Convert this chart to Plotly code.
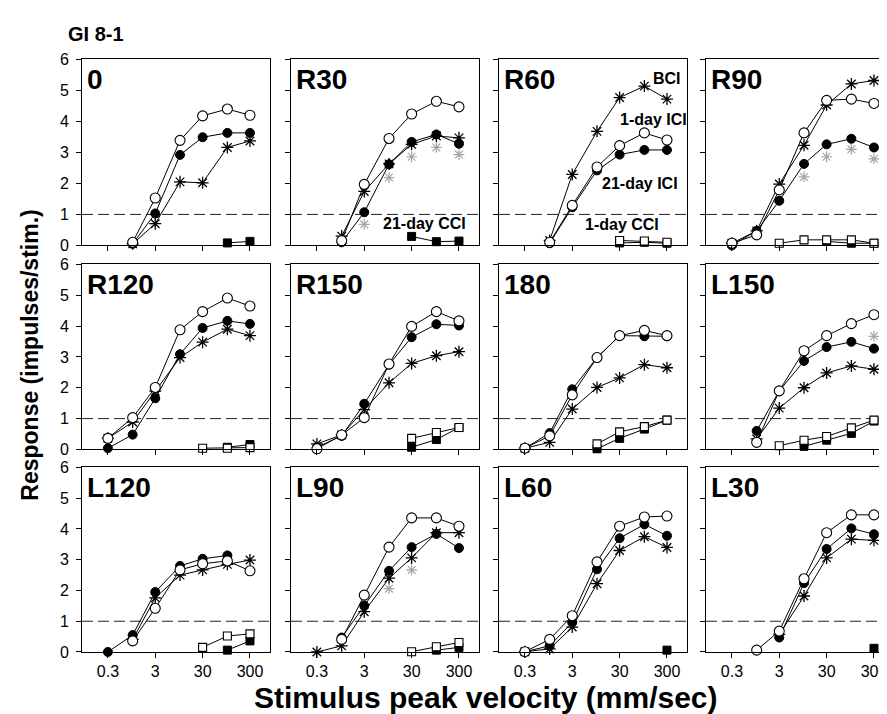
import plotly.graph_objects as go

# ---------------- data ----------------
X = [0.3, 1, 3, 10, 30, 100, 300]
PANEL_NAMES = ["0", "R30", "R60", "R90", "R120", "R150", "180", "L150", "L120", "L90", "L60", "L30"]
N = None

# BCI (asterisk), 1-day ICI (open circle), 21-day ICI (filled circle),
# extra (gray asterisk), 1-day CCI (open square), 21-day CCI (filled square)
p0_bci   = [N, 0.05, 0.70, 2.05, 2.02, 3.16, 3.37]
p0_ici1  = [N, 0.10, 1.53, 3.39, 4.18, 4.40, 4.20]
p0_ici21 = [N, 0.05, 1.03, 2.92, 3.49, 3.63, 3.63]
p0_gray  = [N, N, N, N, N, N, N]
p0_cci1  = [N, N, N, N, N, N, N]
p0_cci21 = [N, N, N, N, N, 0.08, 0.13]

r30_bci   = [N, 0.30, 1.74, 2.63, 3.26, 3.53, 3.47]
r30_ici1  = [N, 0.15, 1.97, 3.45, 4.24, 4.65, 4.47]
r30_ici21 = [N, 0.10, 1.07, 2.62, 3.34, 3.58, 3.28]
r30_gray  = [N, N, 0.68, 2.19, 2.86, 3.16, 2.93]
r30_cci1  = [N, N, N, N, N, N, N]
r30_cci21 = [N, N, N, N, 0.29, 0.12, 0.14]

r60_bci   = [N, 0.16, 2.29, 3.68, 4.77, 5.14, 4.72]
r60_ici1  = [N, 0.10, 1.29, 2.53, 3.22, 3.63, 3.40]
r60_ici21 = [N, 0.07, 1.23, 2.42, 2.93, 3.08, 3.08]
r60_gray  = [N, N, N, N, N, N, N]
r60_cci1  = [N, N, N, N, 0.16, 0.14, 0.10]
r60_cci21 = [N, N, N, N, 0.08, 0.10, 0.07]

r90_bci   = [0.07, 0.47, 1.98, 3.23, 4.53, 5.21, 5.32]
r90_ici1  = [0.07, 0.34, 1.79, 3.63, 4.68, 4.72, 4.58]
r90_ici21 = [0.00, 0.47, 1.44, 2.63, 3.26, 3.44, 3.16]
r90_gray  = [N, N, N, 2.21, 2.86, 3.10, 2.79]
r90_cci1  = [N, N, 0.07, 0.18, 0.18, 0.18, 0.07]
r90_cci21 = [N, N, N, N, 0.13, 0.07, 0.07]

r120_bci   = [0.36, 0.89, 1.89, 2.98, 3.48, 3.90, 3.69]
r120_ici1  = [0.36, 1.03, 2.01, 3.88, 4.47, 4.91, 4.65]
r120_ici21 = [0.04, 0.48, 1.66, 3.09, 3.94, 4.17, 4.07]
r120_gray  = [N, N, N, N, N, N, N]
r120_cci1  = [N, N, N, N, 0.04, 0.04, 0.06]
r120_cci21 = [N, N, N, N, N, 0.07, 0.16]

r150_bci   = [0.18, 0.47, 1.29, 2.16, 2.79, 3.04, 3.17]
r150_ici1  = [0.02, 0.47, 1.03, 2.77, 3.99, 4.47, 4.17]
r150_ici21 = [0.07, 0.44, 1.48, 2.75, 3.64, 4.06, 4.02]
r150_gray  = [N, N, N, N, N, N, N]
r150_cci1  = [N, N, N, N, 0.36, 0.55, 0.71]
r150_cci21 = [N, N, N, N, 0.07, 0.32, 0.71]

p180_bci   = [0.04, 0.23, 1.31, 2.01, 2.32, 2.75, 2.65]
p180_ici1  = [0.04, 0.44, 1.77, 2.98, 3.69, 3.86, 3.69]
p180_ici21 = [0.04, 0.53, 1.95, 2.98, 3.69, 3.67, 3.67]
p180_gray  = [N, N, N, N, N, N, N]
p180_cci1  = [N, N, N, 0.18, 0.57, 0.74, 0.95]
p180_cci21 = [N, N, N, 0.02, 0.36, 0.66, 0.95]

l150_bci   = [N, 0.34, 1.34, 2.00, 2.48, 2.71, 2.60]
l150_ici1  = [N, 0.23, 1.90, 3.20, 3.69, 4.08, 4.37]
l150_ici21 = [N, 0.60, 1.90, 2.87, 3.32, 3.49, 3.27]
l150_gray  = [N, N, N, N, N, N, 3.67]
l150_cci1  = [N, N, 0.12, 0.30, 0.42, 0.70, 0.95]
l150_cci21 = [N, N, N, 0.10, 0.30, 0.52, 0.92]

l120_bci   = [N, 0.41, 1.76, 2.50, 2.67, 2.85, 2.99]
l120_ici1  = [N, 0.36, 1.42, 2.67, 2.87, 2.96, 2.64]
l120_ici21 = [0.00, 0.55, 1.95, 2.80, 3.03, 3.14, N]
l120_gray  = [N, N, N, N, N, N, N]
l120_cci1  = [N, N, N, N, 0.15, 0.52, 0.59]
l120_cci21 = [N, N, N, N, N, 0.06, 0.36]

l90_bci   = [0.00, 0.20, 1.31, 2.40, 3.06, 3.88, 3.88]
l90_ici1  = [N, 0.41, 1.85, 3.41, 4.36, 4.36, 4.09]
l90_ici21 = [N, 0.47, 1.51, 2.64, 3.41, 3.84, 3.38]
l90_gray  = [N, N, N, 2.06, 2.67, N, N]
l90_cci1  = [N, N, N, N, 0.01, 0.17, 0.31]
l90_cci21 = [N, N, N, N, N, 0.06, 0.15]

l60_bci   = [0.01, 0.10, 0.81, 2.22, 3.30, 3.75, 3.40]
l60_ici1  = [0.01, 0.41, 1.18, 2.93, 4.09, 4.39, 4.42]
l60_ici21 = [0.01, 0.20, 0.96, 2.69, 3.70, 4.15, 3.78]
l60_gray  = [N, N, N, N, N, N, N]
l60_cci1  = [N, N, N, N, N, N, N]
l60_cci21 = [N, N, N, N, N, N, 0.06]

l30_bci   = [N, N, 0.57, 1.82, 3.06, 3.67, 3.63]
l30_ici1  = [N, 0.06, 0.68, 2.38, 3.88, 4.46, 4.46]
l30_ici21 = [N, N, 0.47, 2.24, 3.35, 4.02, 3.83]
l30_gray  = [N, N, N, N, N, N, N]
l30_cci1  = [N, N, N, N, N, N, N]
l30_cci21 = [N, N, N, N, N, N, 0.12]

X_TICKS = [0.3, 3, 30, 300]
X_TICK_TEXT = ["0.3", "3", "30", "300"]
Y_TICKS = [0, 1, 2, 3, 4, 5, 6]

panels = [
    (p0_bci, p0_ici1, p0_ici21, p0_gray, p0_cci1, p0_cci21),
    (r30_bci, r30_ici1, r30_ici21, r30_gray, r30_cci1, r30_cci21),
    (r60_bci, r60_ici1, r60_ici21, r60_gray, r60_cci1, r60_cci21),
    (r90_bci, r90_ici1, r90_ici21, r90_gray, r90_cci1, r90_cci21),
    (r120_bci, r120_ici1, r120_ici21, r120_gray, r120_cci1, r120_cci21),
    (r150_bci, r150_ici1, r150_ici21, r150_gray, r150_cci1, r150_cci21),
    (p180_bci, p180_ici1, p180_ici21, p180_gray, p180_cci1, p180_cci21),
    (l150_bci, l150_ici1, l150_ici21, l150_gray, l150_cci1, l150_cci21),
    (l120_bci, l120_ici1, l120_ici21, l120_gray, l120_cci1, l120_cci21),
    (l90_bci, l90_ici1, l90_ici21, l90_gray, l90_cci1, l90_cci21),
    (l60_bci, l60_ici1, l60_ici21, l60_gray, l60_cci1, l60_cci21),
    (l30_bci, l30_ici1, l30_ici21, l30_gray, l30_cci1, l30_cci21),
]

# ---------------- layout geometry (pixels) ----------------
W, H = 887, 714
COL_LEFT = [74, 283, 491, 698]
PW = 188
ROW_TOP = [44.5, 254.5, 462.5]
ROW_BOT = [235, 444, 651.5]
FONT = "Liberation Sans, Arial, Helvetica, sans-serif"

def fx(px):
    return px / W

def fy(py):
    return 1 - py / H

fig = go.Figure()
layout = dict(
    width=W, height=H,
    margin=dict(l=0, r=0, t=0, b=0),
    paper_bgcolor="white", plot_bgcolor="white",
    showlegend=False,
    font=dict(family=FONT, color="black", size=16),
)
annotations = []
shapes = []

line_kw = dict(color="black", width=1)

for i, (bci, ici1, ici21, gray, cci1, cci21) in enumerate(panels):
    r, c = divmod(i, 4)
    k = i + 1
    xa = "x" if k == 1 else f"x{k}"
    ya = "y" if k == 1 else f"y{k}"

    common = dict(x=X, xaxis=xa, yaxis=ya, cliponaxis=False, hoverinfo="skip")
    # BCI - asterisk
    fig.add_trace(go.Scatter(y=bci, mode="lines+markers", line=line_kw,
                             marker=dict(symbol="asterisk-open", size=10, color="black",
                                         line=dict(color="black", width=1.3)), **common))
    # gray asterisk (no line)
    fig.add_trace(go.Scatter(y=gray, mode="markers",
                             marker=dict(symbol="asterisk-open", size=9, color="#a6a6a6",
                                         line=dict(color="#a6a6a6", width=1.2)), **common))
    # 21-day ICI - filled circle
    fig.add_trace(go.Scatter(y=ici21, mode="lines+markers", line=line_kw,
                             marker=dict(symbol="circle", size=9, color="black",
                                         line=dict(color="black", width=1)), **common))
    # 1-day ICI - open circle
    fig.add_trace(go.Scatter(y=ici1, mode="lines+markers", line=line_kw,
                             marker=dict(symbol="circle", size=10, color="white",
                                         line=dict(color="black", width=1.1)), **common))
    # 21-day CCI - filled square
    fig.add_trace(go.Scatter(y=cci21, mode="lines+markers", line=line_kw,
                             marker=dict(symbol="square", size=8, color="black",
                                         line=dict(color="black", width=1)), **common))
    # 1-day CCI - open square
    fig.add_trace(go.Scatter(y=cci1, mode="lines+markers", line=line_kw,
                             marker=dict(symbol="square", size=8, color="white",
                                         line=dict(color="black", width=1.1)), **common))

    xname = "xaxis" if k == 1 else f"xaxis{k}"
    yname = "yaxis" if k == 1 else f"yaxis{k}"
    layout[xname] = dict(
        type="log", range=[-1.07, 2.90],
        domain=[fx(COL_LEFT[c]), fx(COL_LEFT[c] + PW)],
        anchor=ya, tickvals=X_TICKS, ticktext=X_TICK_TEXT,
        showticklabels=(r == 2), ticks="outside", ticklen=5, tickwidth=1,
        tickcolor="black", showline=True, linecolor="black", linewidth=1,
        mirror=True, showgrid=False, zeroline=False,
        tickfont=dict(size=16, family=FONT, color="black"),
    )
    layout[yname] = dict(
        range=[0, 6], domain=[fy(ROW_BOT[r]), fy(ROW_TOP[r])],
        anchor=xa, tickvals=Y_TICKS,
        showticklabels=(c == 0), ticks="outside", ticklen=5, tickwidth=1,
        tickcolor="black", showline=True, linecolor="black", linewidth=1,
        mirror=True, showgrid=False, zeroline=False, ticklabelstandoff=4,
        tickfont=dict(size=16, family=FONT, color="black"),
    )
    # threshold line
    shapes.append(dict(type="line", xref=f"{xa} domain", yref=ya, x0=0, x1=1, y0=1, y1=1,
                       line=dict(color="#222", width=1, dash="11px,5px"), layer="below"))
    # panel label
    annotations.append(dict(text=f"<b>{PANEL_NAMES[i]}</b>", xref="paper", yref="paper",
                            x=fx(COL_LEFT[c] + 3), y=fy(ROW_TOP[r] + 3),
                            xanchor="left", yanchor="top", showarrow=False,
                            font=dict(size=28, family=FONT, color="black")))

# condition labels (R30 and R60 panels)
def lab(text, axis, lx, ly):
    annotations.append(dict(text=f"<b>{text}</b>", xref=f"x{axis}", yref=f"y{axis}",
                            x=lx, y=ly, showarrow=False, xanchor="center", yanchor="middle",
                            font=dict(size=16, family=FONT, color="black")))

lab("21-day CCI", 2, 1.75, 0.70)
lab("BCI", 3, 2.47, 5.37)
lab("1-day ICI", 3, 2.19, 4.05)
lab("21-day ICI", 3, 1.90, 2.00)
lab("1-day CCI", 3, 1.53, 0.66)

# figure-level texts
annotations.append(dict(text="<b>GI 8-1</b>", xref="paper", yref="paper",
                        x=fx(58), y=fy(18), xanchor="left", yanchor="middle",
                        showarrow=False, font=dict(size=20, family=FONT, color="black")))
annotations.append(dict(text="<b>Response (impulses/stim.)</b>", xref="paper", yref="paper",
                        x=fx(22), y=fy(348), xanchor="center", yanchor="middle", textangle=-90,
                        showarrow=False, font=dict(size=23, family=FONT, color="black")))
annotations.append(dict(text="<b>Stimulus peak velocity (mm/sec)</b>", xref="paper", yref="paper",
                        x=fx(478), y=fy(698), xanchor="center", yanchor="middle",
                        showarrow=False, font=dict(size=30, family=FONT, color="black")))

layout["annotations"] = annotations
layout["shapes"] = shapes
fig.update_layout(**layout)
fig.write_html("out.html")
